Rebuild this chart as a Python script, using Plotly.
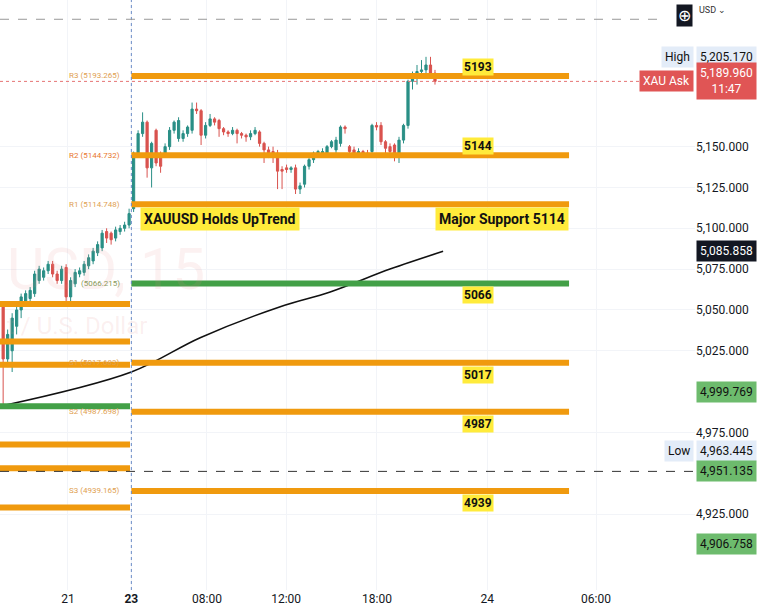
import plotly.graph_objects as go

# 15-minute candles, XAUUSD (left block = day 21, right block = day 23)
opens = [5053, 5020, 5025, 5040, 5050, 5055, 5057, 5060, 5068, 5070, 5074, 5078, 5072, 5068, 5076,
         5058, 5066, 5072, 5073, 5077, 5080, 5085, 5088, 5098, 5097, 5094, 5098, 5100, 5102,
         5112, 5146, 5158, 5165, 5137, 5160, 5145, 5146, 5150, 5160, 5155, 5155, 5158, 5160, 5173,
         5172, 5157, 5163, 5167, 5166, 5161, 5159, 5158, 5160, 5158, 5157, 5156, 5158, 5159, 5152,
         5148, 5147, 5146, 5136, 5137, 5136, 5137, 5124, 5127, 5138, 5142, 5146, 5146, 5146, 5150,
         5148, 5152, 5162, 5150, 5148, 5146, 5147, 5146, 5147, 5163, 5163, 5153, 5150, 5151, 5144,
         5154, 5163, 5190, 5192, 5196, 5197, 5200, 5195]
closes = [5020, 5035, 5045, 5050, 5058, 5060, 5062, 5072, 5075, 5074, 5078, 5072, 5068, 5075, 5058,
          5068, 5073, 5074, 5078, 5082, 5086, 5090, 5097, 5094, 5093, 5099, 5100, 5102, 5109,
          5146, 5158, 5165, 5137, 5152, 5140, 5138, 5150, 5160, 5165, 5166, 5158, 5162, 5173, 5172,
          5157, 5163, 5167, 5165, 5161, 5159, 5158, 5160, 5158, 5157, 5156, 5158, 5160, 5152, 5148,
          5145, 5145, 5135, 5135, 5136, 5137, 5124, 5126, 5138, 5142, 5146, 5147, 5147, 5150, 5153,
          5154, 5162, 5161, 5147, 5146, 5147, 5146, 5145, 5163, 5162, 5153, 5149, 5147, 5144, 5154,
          5163, 5190, 5192, 5196, 5197, 5200, 5195, 5190]
highs = [5055, 5038, 5048, 5052, 5060, 5062, 5064, 5074, 5077, 5076, 5080, 5080, 5074, 5077, 5078,
         5070, 5075, 5076, 5080, 5084, 5088, 5092, 5099, 5100, 5098, 5101, 5102, 5104, 5112,
         5147, 5160, 5171, 5166, 5153, 5161, 5147, 5152, 5162, 5166,
         5168, 5160, 5163, 5177, 5177, 5173, 5165, 5170, 5168, 5167,
         5162, 5160, 5162, 5161, 5159, 5158, 5160, 5162, 5160, 5153,
         5150, 5150, 5148, 5138, 5139, 5138, 5139, 5128, 5139, 5143,
         5147, 5148, 5149, 5151, 5154, 5156, 5163, 5163, 5151, 5150,
         5149, 5148, 5148, 5164, 5165, 5165, 5154, 5152, 5152, 5156,
         5164, 5191, 5196, 5200, 5203, 5205, 5205, 5197]
lows = [4990, 5015, 5012, 5035, 5045, 5052, 5055, 5058, 5066, 5068, 5072, 5070, 5066, 5066, 5055,
        5055, 5064, 5070, 5071, 5075, 5078, 5083, 5086, 5091, 5090, 5092, 5096, 5098, 5100,
        5110, 5144, 5156, 5131, 5125, 5138, 5134, 5144, 5148, 5158,
        5153, 5153, 5156, 5158, 5170, 5151, 5155, 5162, 5163, 5156,
        5157, 5156, 5157, 5152, 5155, 5153, 5154, 5157, 5150, 5140,
        5143, 5140, 5124, 5124, 5134, 5134, 5121, 5121, 5125, 5136,
        5140, 5145, 5145, 5145, 5149, 5146, 5150, 5158, 5145, 5143,
        5144, 5144, 5144, 5145, 5160, 5151, 5145, 5143, 5141, 5140,
        5152, 5161, 5185, 5188, 5193, 5195, 5193, 5188]

# moving average (sampled)
ma_x = [-0.7, 28.5, 43.8, 61.6, 72.7, 86, 97.8]
ma_y = [4991, 5012, 5033, 5052, 5061, 5075, 5085.9]

# pivot levels for day 23
pivot_names = ["R3", "R2", "R1", "", "S1", "S2", "S3"]
pivot_vals = [5193.265, 5144.732, 5114.748, 5066.215, 5017.683, 4987.698, 4939.165]
pivot_tags = ["5193", "5144", "Major Support 5114", "5066", "5017", "4987", "4939"]
# previous-day levels (left block)
prev_vals = [5053.6, 5030.6, 5016.5, 4991.0, 4967.6, 4953.0, 4929.0]
prev_green = [False, False, False, True, False, False, False]

tick_vals = [4925, 4975, 5025, 5050, 5075, 5100, 5125, 5150]
x_tick_pos = [14.4, 28.5, 45.3, 62.9, 83.1, 107.6, 131.8]
x_tick_text = ["21", "<b>23</b>", "08:00", "12:00", "18:00", "24", "06:00"]

ORANGE = "#f09a0e"
GREEN = "#43a047"

fig = go.Figure()
bars = list(range(len(opens)))

shapes = []
for v, n in zip(pivot_vals, pivot_names):
    shapes.append(dict(type="line", x0=28.5, x1=125.8, y0=v, y1=v,
                       line=dict(color=GREEN if n == "" else ORANGE, width=6)))
for v, g in zip(prev_vals, prev_green):
    shapes.append(dict(type="line", x0=-0.7, x1=28.2, y0=v, y1=v,
                       line=dict(color=GREEN if g else ORANGE, width=6)))
shapes.append(dict(type="line", x0=28.5, x1=28.5, yref="paper", y0=0, y1=1,
                   line=dict(color="#6b8cc7", width=1, dash="dot")))
shapes.append(dict(type="line", xref="paper", x0=0, x1=1, y0=5189.96, y1=5189.96,
                   line=dict(color="#e57373", width=1, dash="dot")))
shapes.append(dict(type="line", xref="paper", x0=0, x1=1, y0=4951.135, y1=4951.135,
                   line=dict(color="#333", width=1, dash="dash")))
shapes.append(dict(type="line", xref="paper", x0=0, x1=0.955, y0=5228, y1=5228,
                   line=dict(color="#999", width=1, dash="dash")))

fig.add_trace(go.Scatter(x=ma_x, y=ma_y, mode="lines", line=dict(color="#111", width=1.6, shape="spline"),
                         hoverinfo="skip"))
fig.add_trace(go.Candlestick(x=bars, open=opens, high=highs, low=lows, close=closes,
                             increasing=dict(line=dict(color="#2a8f86", width=1), fillcolor="#2a8f86"),
                             decreasing=dict(line=dict(color="#d9534f", width=1), fillcolor="#d9534f"),
                             whiskerwidth=0))

ann = []
# watermark
ann.append(dict(x=0.5, y=5075, xref="x", yref="y", text="USD, 15", showarrow=False, xanchor="left",
                font=dict(size=58, color="rgba(230,140,140,0.12)", family="Roboto")))
ann.append(dict(x=0.5, y=5040, xref="x", yref="y", text="t / U.S. Dollar", showarrow=False, xanchor="left",
                font=dict(size=24, color="rgba(230,140,140,0.14)", family="Roboto")))
for v, n in zip(pivot_vals, pivot_names):
    label = f"{n} ({v:.3f})" if n else f"({v:.3f})"
    col = "#8a9a5b" if n == "" else ("#e8772e" if n == "R2" else "#e0a050")
    ann.append(dict(x=26.5, y=v, text=label, showarrow=False, xanchor="right",
                    font=dict(size=8, color=col, family="Roboto")))
for v, t in zip(pivot_vals, pivot_tags):
    if t.startswith("Major"):
        ann.append(dict(x=125.8, y=v, text="<b>" + t + "</b>", showarrow=False, xanchor="right",
                        yanchor="top", yshift=-3, bgcolor="#ffeb3b", borderpad=3,
                        font=dict(size=14, color="#111", family="Roboto")))
    else:
        ann.append(dict(x=105.5, y=v, text="<b>" + t + "</b>", showarrow=False, xanchor="center",
                        yshift=-12 if v < 5100 else 9,
                        bgcolor="#ffeb3b", borderpad=1, font=dict(size=12, color="#111", family="Roboto")))
ann.append(dict(x=30.5, y=5114.748, text="<b>XAUUSD Holds UpTrend</b>", showarrow=False, xanchor="left",
                yanchor="top", yshift=-3, bgcolor="#ffeb3b", borderpad=3,
                font=dict(size=14, color="#111", family="Roboto")))


def price_box(y, text, bg, fg="#111", label=None, lbg=None):
    ann.append(dict(xref="paper", x=1.0, y=y, text=text, showarrow=False, xanchor="left", xshift=1,
                    bgcolor=bg, borderpad=3, font=dict(size=12, color=fg, family="Roboto")))
    if label:
        ann.append(dict(xref="paper", x=1.0, y=y, text=label, showarrow=False, xanchor="right", xshift=-1,
                        bgcolor=lbg, borderpad=3, font=dict(size=12, color=fg, family="Roboto")))


price_box(5205.17, "5,205.170", "#e3ecf8", label="High", lbg="#e3ecf8")
price_box(5189.96, "5,189.960<br>11:47", "#e05555", "#fff", label="XAU Ask", lbg="#e05555")
price_box(5085.858, "5,085.858", "#131722", "#fff")
price_box(4999.769, "4,999.769", "#6dbb6d")
price_box(4963.445, "4,963.445", "#e3ecf8", label="Low", lbg="#e3ecf8")
price_box(4951.135, "4,951.135", "#6dbb6d")
price_box(4906.758, "4,906.758", "#6dbb6d")
ann.append(dict(xref="paper", yref="paper", x=1.0, y=1.0, text="USD ⌄", showarrow=False, xanchor="left",
                yanchor="top", xshift=2, yshift=-3, bgcolor="#fff", font=dict(size=9, color="#333")))
ann.append(dict(xref="paper", yref="paper", x=1.0, y=1.0, text="⊕", showarrow=False, xanchor="right",
                yanchor="top", xshift=-2, yshift=-4, bgcolor="#131722", font=dict(size=16, color="#fff")))

fig.update_layout(
    width=768, height=616, margin=dict(l=0, r=73, t=0, b=26, autoexpand=False),
    paper_bgcolor="#fff", plot_bgcolor="#fff", showlegend=False,
    shapes=shapes, annotations=ann,
    font=dict(family="Roboto", color="#131722"),
    xaxis=dict(range=[-0.7, 153.8], tickvals=x_tick_pos, ticktext=x_tick_text, showgrid=True,
               gridcolor="#f2f4f8", zeroline=False, rangeslider=dict(visible=False),
               tickfont=dict(size=12), ticks="", automargin=False),
    yaxis=dict(range=[4878.5, 5239.8], side="right", tickvals=tick_vals,
               ticktext=[f"{v:,.3f}" for v in tick_vals], showgrid=True, gridcolor="#f2f4f8",
               zeroline=False, tickfont=dict(size=12), automargin=False),
)

fig.write_html("out.html", config={"displayModeBar": False},
               post_script="document.body.style.margin='0';")
